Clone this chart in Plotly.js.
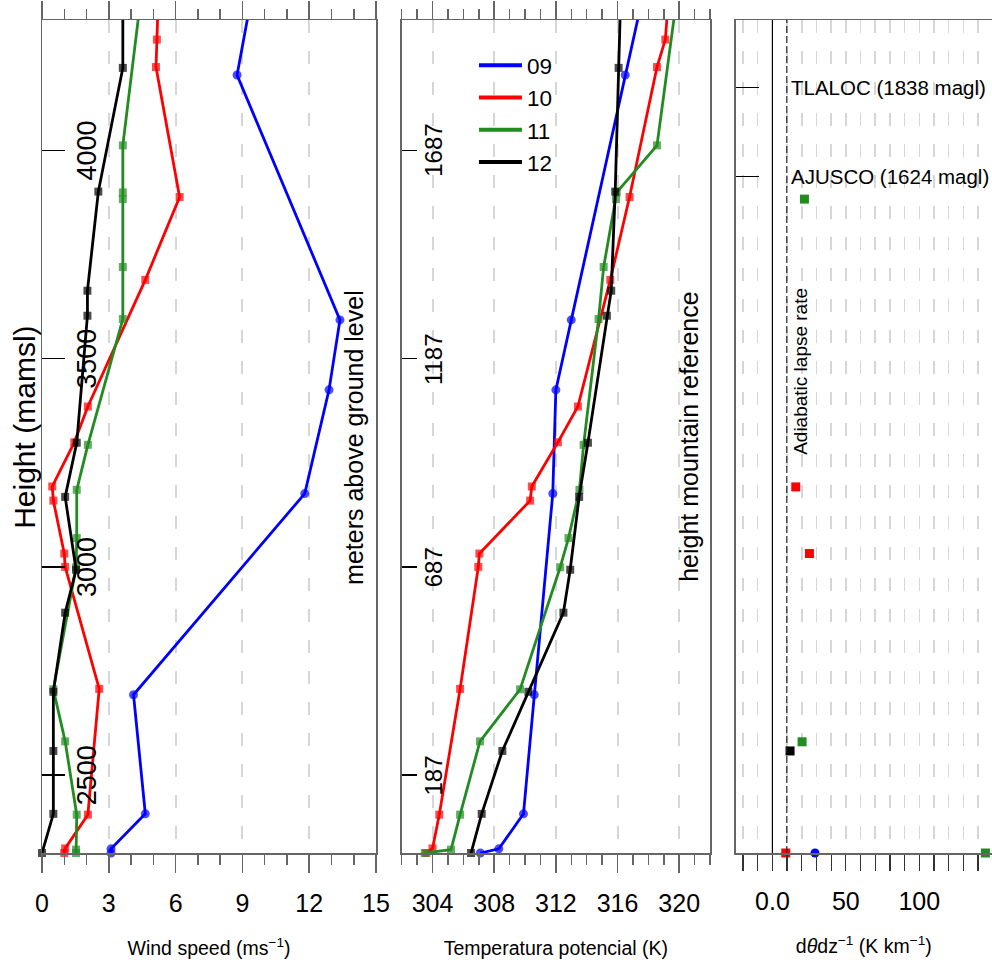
<!DOCTYPE html>
<html>
<head>
<meta charset="utf-8">
<script src="https://cdn.plot.ly/plotly-3.0.1.min.js"></script>
<style>
  html, body { margin: 0; padding: 0; background: #ffffff; }
  #chart { width: 992px; height: 970px; }
</style>
</head>
<body>
<div id="chart"></div>
<script>
// Radiosonde profiles, heights in metres above ground level
const hours = ['09', '10', '11', '12'];
const hourColors = ['#0000ff', '#ff0000', '#228b22', '#000000'];
const hourSymbols = ['circle', 'square', 'square', 'square'];

const heights09 = [0, 10, 94, 380, 863, 1112, 1280, 1868, 2050];
const wind09    = [3.1, 3.1, 4.64, 4.11, 11.8, 12.89, 13.38, 8.76, 9.39];
const theta09   = [307.1, 308.3, 309.9, 310.6, 311.8, 312.0, 313.0, 316.5, 317.6];

const heights10 = [0, 11, 92, 394, 687, 719, 846, 880, 986, 1072, 1376, 1575, 1887, 1953, 2050];
const wind10    = [1.0, 1.04, 2.06, 2.57, 1.04, 1.0, 0.51, 0.46, 1.45, 2.06, 4.64, 6.18, 5.12, 5.16, 5.22];
const theta10   = [303.6, 304.0, 304.44, 305.79, 306.97, 307.04, 310.33, 310.44, 312.13, 313.43, 315.53, 316.78, 318.56, 319.1, 319.3];

const heights11 = [0, 8, 92, 268, 393, 686, 756, 872, 980, 1282, 1407, 1570, 1586, 1699, 2050];
const wind11    = [1.53, 1.53, 1.56, 1.04, 0.51, 1.53, 1.56, 1.56, 2.06, 3.63, 3.63, 3.63, 3.63, 3.63, 4.43];
const theta11   = [303.5, 305.2, 305.79, 307.08, 309.68, 312.28, 312.82, 313.53, 313.8, 314.77, 315.1, 315.9, 315.95, 318.56, 319.83];

const heights12 = [0, 94, 245, 387, 577, 680, 855, 985, 1290, 1350, 1588, 1885, 2050];
const wind12    = [0, 0.51, 0.51, 0.51, 1.04, 1.53, 1.04, 1.56, 2.04, 2.04, 2.53, 3.63, 3.63];
const theta12   = [306.5, 307.19, 308.53, 310.22, 312.49, 312.93, 313.51, 314.08, 315.31, 315.59, 315.85, 316.07, 316.2];

// Potential temperature gradient (K per km)
const lapseHeights09 = [0];
const lapse09        = [29];
const lapseHeights10 = [0, 719, 879];
const lapse10        = [9.1, 25.2, 15.9];
const lapseHeights11 = [0, 267, 1570];
const lapse11        = [145, 20.2, 21.8];
const lapseHeights12 = [245];
const lapse12        = [12.0];

// Reference heights
const groundElevation = 2313;              // m above sea level
const mamslTicks = [2500, 3000, 3500, 4000];
const maglTicks = [187, 687, 1187, 1687];
const mountainNames = ['TLALOC', 'AJUSCO'];
const mountainHeights = [1838, 1624];
const adiabaticRate = 9.8;
const topHeight = 2000;

const profiles = [
  { h: heights09, w: wind09, t: theta09, lh: lapseHeights09, l: lapse09 },
  { h: heights10, w: wind10, t: theta10, lh: lapseHeights10, l: lapse10 },
  { h: heights11, w: wind11, t: theta11, lh: lapseHeights11, l: lapse11 },
  { h: heights12, w: wind12, t: theta12, lh: lapseHeights12, l: lapse12 }
];

const FONT = 'Liberation Sans, Arial, Helvetica, sans-serif';
const FRAME = '#666666';
const GRID = '#d6d6d6';
const GRID_DASH = '13px,18px';

function markerSizes(h, size) {
  // hide markers lying above the plotted height range
  return h.map(v => (v > topHeight ? 0 : size));
}

const traces = [];
profiles.forEach((p, i) => {
  const sz = hourSymbols[i] === 'circle' ? 9 : 8;
  [['x', 'y', p.w], ['x2', 'y2', p.t]].forEach(([xa, ya, vals]) => {
    traces.push({
      x: vals, y: p.h, xaxis: xa, yaxis: ya,
      type: 'scatter', mode: 'lines+markers', cliponaxis: false,
      line: { color: hourColors[i], width: 2.8 },
      marker: { color: hourColors[i], symbol: hourSymbols[i], size: markerSizes(p.h, sz),
                line: { width: 0 } },
      showlegend: false, hoverinfo: 'skip'
    });
  });
  traces.push({
    x: p.l, y: p.lh, xaxis: 'x3', yaxis: 'y3',
    type: 'scatter', mode: 'markers', cliponaxis: false,
    marker: { color: hourColors[i], symbol: hourSymbols[i], size: 9, line: { width: 0 } },
    showlegend: false, hoverinfo: 'skip'
  });
});
// legend entries (lines only)
hours.forEach((hr, i) => {
  traces.push({
    x: [null], y: [null], xaxis: 'x2', yaxis: 'y2',
    type: 'scatter', mode: 'lines', name: hr,
    line: { color: hourColors[i], width: 4 },
    showlegend: true, hoverinfo: 'skip'
  });
});

const xCommon = {
  ticks: 'outside', ticklen: 18, tickwidth: 1.5, tickcolor: FRAME,
  showline: true, linecolor: FRAME, linewidth: 1.5, mirror: 'ticks',
  showgrid: true, gridcolor: GRID, gridwidth: 2, griddash: GRID_DASH,
  zeroline: false, tickfont: { size: 25, color: '#000' },
  ticklabelstandoff: 9
};

const yCommon = {
  domain: [0, 1], range: [0, topHeight],
  ticks: 'inside', tickwidth: 1.5, tickcolor: '#000', showticklabels: false,
  showline: true, linecolor: FRAME, linewidth: 1.5,
  showgrid: false, zeroline: false
};

// height labels written inside each panel, rotated like the tick marks they belong to
const heightLabels = [];
mamslTicks.forEach(v => heightLabels.push({
  xref: 'x domain', yref: 'y', x: 0.135, y: v - groundElevation, text: String(v),
  textangle: -90, showarrow: false, xanchor: 'center', yanchor: 'middle', font: { size: 27 }
}));
maglTicks.forEach(v => heightLabels.push({
  xref: 'x2 domain', yref: 'y2', x: 0.103, y: v, text: String(v),
  textangle: -90, showarrow: false, xanchor: 'center', yanchor: 'middle', font: { size: 24 }
}));

const layout = {
  width: 992, height: 970,
  margin: { l: 42, r: 0, t: 20, b: 117 },
  paper_bgcolor: '#ffffff', plot_bgcolor: '#ffffff',
  font: { family: FONT, color: '#000' },
  showlegend: true,
  legend: {
    x: 0.4547, y: 0.971, xanchor: 'left', yanchor: 'top',
    font: { size: 22.5, color: '#000' }, bgcolor: 'rgba(0,0,0,0)',
    itemwidth: 43
  },
  xaxis: Object.assign({}, xCommon, {
    domain: [0, 0.3516], range: [0, 15], tick0: 0, dtick: 3, anchor: 'y',
    minor: { dtick: 1, ticks: 'outside', ticklen: 10, tickcolor: FRAME, tickwidth: 1.5, showgrid: false },
    title: { text: 'Wind speed (ms<sup>−1</sup>)', font: { size: 19.5 }, standoff: 26 }
  }),
  xaxis2: Object.assign({}, xCommon, {
    domain: [0.3786, 0.7032], range: [302, 322], tick0: 304, dtick: 4, anchor: 'y2',
    minor: { dtick: 1, ticks: 'outside', ticklen: 10, tickcolor: FRAME, tickwidth: 1.5, showgrid: false },
    title: { text: 'Temperatura potencial (K)', font: { size: 19.5 }, standoff: 26 }
  }),
  xaxis3: {
    domain: [0.7302, 1], range: [-25, 149.5], anchor: 'y3',
    tickvals: [0, 50, 100], ticktext: ['0.0', '50', '100'],
    ticks: 'outside', ticklen: 16, tickwidth: 1.2, tickcolor: '#333',
    showline: true, linecolor: FRAME, linewidth: 1.5, mirror: true,
    showgrid: true, gridcolor: GRID, gridwidth: 1.5, griddash: GRID_DASH,
    minor: { tick0: 0, dtick: 10, ticks: 'outside', ticklen: 16, tickwidth: 1.2, tickcolor: '#333',
             showgrid: true, gridcolor: GRID, gridwidth: 1.5, griddash: GRID_DASH },
    zeroline: false, tickfont: { size: 25, color: '#000' }, ticklabelstandoff: 9,
    title: { text: 'd<i>θ</i>dz<sup>−1</sup> (K km<sup>−1</sup>)', font: { size: 19.5 }, standoff: 26 }
  },
  yaxis: Object.assign({}, yCommon, {
    anchor: 'x', mirror: true, ticklen: 23,
    tickvals: mamslTicks.map(v => v - groundElevation)
  }),
  yaxis2: Object.assign({}, yCommon, {
    anchor: 'x2', matches: 'y', mirror: true, ticklen: 15,
    tickvals: maglTicks
  }),
  yaxis3: Object.assign({}, yCommon, {
    anchor: 'x3', matches: 'y', mirror: false, ticklen: 23,
    tickvals: mountainHeights
  }),
  shapes: [
    { type: 'line', xref: 'x3', yref: 'y3 domain', x0: 0, x1: 0, y0: 0, y1: 1,
      line: { color: '#000', width: 1.2 } },
    { type: 'line', xref: 'x3', yref: 'y3 domain', x0: adiabaticRate, x1: adiabaticRate, y0: 0, y1: 1,
      line: { color: '#222', width: 1.2, dash: '7px,3px' } }
  ],
  annotations: [
    { xref: 'paper', yref: 'paper', x: -0.0179, y: 0.5116, text: 'Height (mamsl)',
      textangle: -90, showarrow: false, xanchor: 'center', yanchor: 'middle', font: { size: 30 } },
    { xref: 'paper', yref: 'paper', x: 0.3284, y: 0.4995, text: 'meters above ground level',
      textangle: -90, showarrow: false, xanchor: 'center', yanchor: 'middle', font: { size: 25 } },
    { xref: 'paper', yref: 'paper', x: 0.681, y: 0.4995, text: 'height mountain reference',
      textangle: -90, showarrow: false, xanchor: 'center', yanchor: 'middle', font: { size: 25 } },
    { xref: 'x3', yref: 'y3', x: 19, y: 1156, text: 'Adiabatic lapse rate',
      textangle: -90, showarrow: false, xanchor: 'center', yanchor: 'middle', font: { size: 19 } }
  ].concat(mountainNames.map((name, i) => ({
    xref: 'x3', yref: 'y3', x: 11, y: mountainHeights[i], xanchor: 'left', yanchor: 'middle',
    text: name + ' (' + mountainHeights[i] + ' magl)', showarrow: false, font: { size: 20.5 }
  }))).concat(heightLabels)
};

Plotly.newPlot('chart', traces, layout, { staticPlot: true, displayModeBar: false });
</script>
</body>
</html>
